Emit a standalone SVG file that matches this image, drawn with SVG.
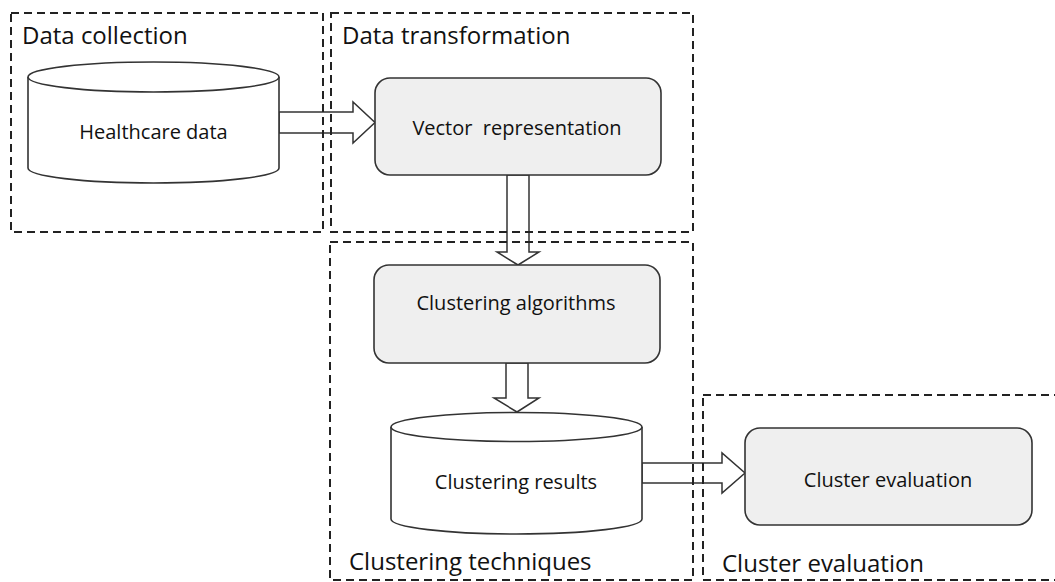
<svg xmlns="http://www.w3.org/2000/svg" width="1055" height="582" viewBox="0 0 1055 582">
<style>
.bg{fill:#ffffff}
.zone{fill:none;stroke:#222;stroke-width:2;stroke-dasharray:8 5}
.zl{font-family:"Open Sans","Liberation Sans",sans-serif;font-size:24px;fill:#111}
.box{fill:#efefef;stroke:#333;stroke-width:1.6}
.cyl{fill:#ffffff;stroke:#333;stroke-width:1.6}
.nl{font-family:"Open Sans","Liberation Sans",sans-serif;font-size:20px;fill:#111;text-anchor:middle}
.arr{fill:#ffffff;stroke:#333;stroke-width:1.5;stroke-linejoin:miter}
</style>
<rect class="bg" x="0" y="0" width="1055" height="582"/>
<g id="connectors">
<polygon class="arr" points="279,112 353,112 353,102 375,122.5 353,143 353,133 279,133"/>
<polygon class="arr" points="507,175 529,175 529,252 539,252 518,265 497,252 507,252"/>
<polygon class="arr" points="506,363 528,363 528,398 539,398 517,412 494,398 506,398"/>
<polygon class="arr" points="642,463 722,463 722,453 745,473 722,493 722,483 642,483"/>
</g>
<g id="zone-data-collection">
<rect class="zone" x="11" y="13" width="312" height="219"/>
<text class="zl" x="22" y="44">Data collection</text>
</g>
<g id="zone-data-transformation">
<rect class="zone" x="331" y="13" width="362" height="219"/>
<text class="zl" x="342" y="44">Data transformation</text>
</g>
<g id="zone-clustering-techniques">
<rect class="zone" x="330" y="242" width="363" height="338"/>
<text class="zl" x="349" y="570">Clustering techniques</text>
</g>
<g id="zone-cluster-evaluation">
<rect class="zone" x="703" y="395" width="360" height="185"/>
<text class="zl" x="722" y="572">Cluster evaluation</text>
</g>
<g id="node-healthcare-data">
<path class="cyl" d="M28,77 L28,168 A125.5,15 0 0 0 279,168 L279,77 A125.5,15 0 0 0 28,77 Z"/>
<path class="cyl" d="M28,77 A125.5,15 0 0 0 279,77"/>
<text class="nl" x="153.5" y="139">Healthcare data</text>
</g>
<g id="node-vector-representation">
<rect class="box" x="375" y="78" width="286" height="97" rx="15" ry="15"/>
<text class="nl" x="517" y="135" xml:space="preserve">Vector  representation</text>
</g>
<g id="node-clustering-algorithms">
<rect class="box" x="374" y="265" width="286" height="98" rx="15" ry="15"/>
<text class="nl" x="516" y="310">Clustering algorithms</text>
</g>
<g id="node-clustering-results">
<path class="cyl" d="M391,427 L391,519 A125.5,15 0 0 0 642,519 L642,427 A125.5,14.5 0 0 0 391,427 Z"/>
<path class="cyl" d="M391,427 A125.5,14.5 0 0 0 642,427"/>
<text class="nl" x="516" y="489">Clustering results</text>
</g>
<g id="node-cluster-evaluation">
<rect class="box" x="745" y="428" width="287" height="97" rx="15" ry="15"/>
<text class="nl" x="888" y="487">Cluster evaluation</text>
</g>
</svg>
